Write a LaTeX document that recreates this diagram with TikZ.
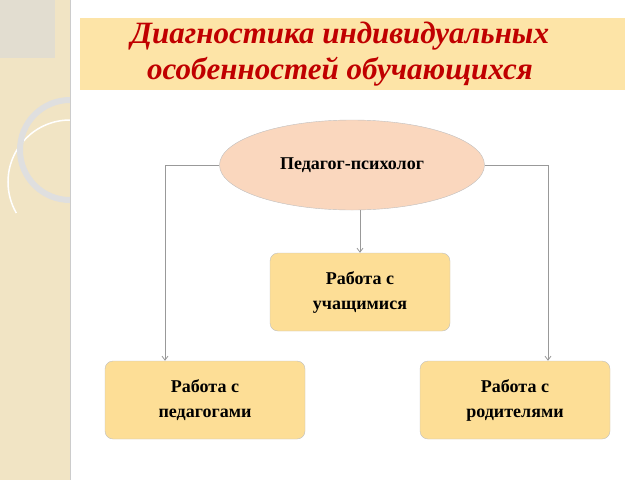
\documentclass[tikz,border=0pt]{standalone}
\usepackage{fontspec}
\setmainfont{Liberation Serif}
\usetikzlibrary{arrows.meta,shapes.geometric}
\definecolor{strip}{RGB}{241,228,196}
\definecolor{titlebg}{RGB}{253,228,167}
\definecolor{titlered}{RGB}{192,0,0}
\definecolor{boxfill}{RGB}{253,222,150}
\definecolor{ovalfill}{RGB}{250,215,190}
\tikzset{
  task/.style={draw=gray!50, rounded corners=8pt, fill=boxfill, minimum width=#1, minimum height=78pt,
    align=center, font=\bfseries\fontsize{18}{25}\selectfont},
  link/.style={draw=gray!80, line width=0.8pt, -{Straight Barb[length=4pt,width=6pt]}}
}
\begin{document}
\begin{tikzpicture}[x=1pt,y=-1pt]
  \useasboundingbox (0,0) rectangle (640,480);
  % Decorative strip
  \fill[strip] (0,0) rectangle (70,480);
  \begin{scope}
    \clip (0,0) rectangle (70,480);
    \fill[gray!30, opacity=0.6] (0,0) rectangle (55,58);
    \draw[white, line width=1.5pt] (70,120) arc (270:150:62);
    \draw[gray!25, line width=6pt] (70,150) circle (50);
  \end{scope}
  \draw[gray!40] (70,0) -- (70,480);
  % Title
  \node[fill=titlebg, minimum width=545pt, minimum height=72pt, inner sep=0pt] (title) at (352,54) {};
  \node[text=titlered, font=\bfseries\itshape\fontsize{31}{36}\selectfont, align=center] at (340,54)
    {Диагностика индивидуальных\\ особенностей обучающихся};
  % Nodes
  \node[ellipse, draw=gray!50, fill=ovalfill, minimum width=265pt, minimum height=90pt,
    font=\bfseries\fontsize{18}{22}\selectfont] (psych) at (352,165) {Педагог-психолог};
  \node[task=180pt] (pupils) at (360,292) {Работа с\\учащимися};
  \node[task=200pt] (teachers) at (205,400) {Работа с\\педагогами};
  \node[task=190pt] (parents) at (515,400) {Работа с\\родителями};
  % Connections
  \coordinate (lt) at (165,165);
  \coordinate (rt) at (548,165);
  \draw[link] (psych.west) -- (lt) -- (lt |- teachers.north);
  \draw[link] (psych.east) -- (rt) -- (rt |- parents.north);
  \draw[link] (pupils.north |- psych.south) -- (pupils.north);
\end{tikzpicture}
\end{document}
